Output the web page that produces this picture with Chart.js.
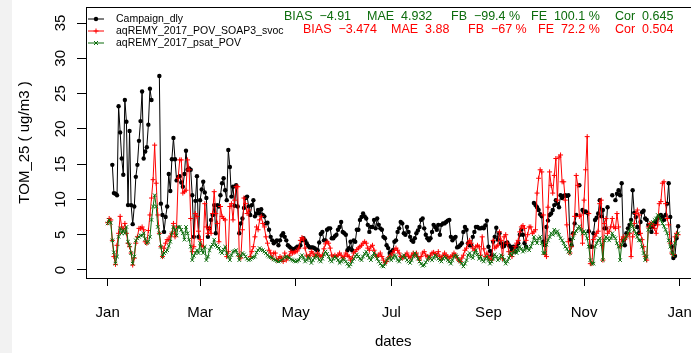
<!DOCTYPE html>
<html>
<head>
<meta charset="utf-8">
<script src="https://cdn.jsdelivr.net/npm/chart.js@4.4.1/dist/chart.umd.min.js"></script>
<style>
  html, body { margin: 0; padding: 0; overflow: hidden; }
  body { width: 691px; height: 353px; background: linear-gradient(to right, #f2f2f2 0, #f2f2f2 12px, #ffffff 12px); }
  #wrap { position: absolute; left: 0; top: 0; width: 710px; height: 353px; }
</style>
</head>
<body>
<div id="wrap"><canvas id="grafikTom" width="710" height="353"></canvas></div>
<script>
// daily values, index 0 = 1 Jan ... 364 = 31 Dec
const campaign = [
  null,null,null,14.9,10.9,10.8,10.6,23.2,19.5,15.8,
  13.5,24.1,21.0,9.2,19.7,9.2,6.5,9.0,13.2,14.9,
  18.3,21.1,25.3,15.8,16.8,17.4,20.6,25.7,24.1,null,
  null,null,null,27.5,9.4,7.8,5.4,7.5,9.0,13.6,
  11.2,15.7,18.7,15.7,12.7,13.2,13.3,12.4,11.8,13.6,
  16.9,14.2,14.4,14.2,10.6,4.7,9.8,13.3,4.7,9.9,
  11.4,12.5,11.0,10.2,4.7,5.9,7.1,7.8,9.2,5.2,
  9.2,9.0,10.6,12.3,13.0,11.3,9.9,17.0,14.6,10.4,
  11.8,9.1,12.0,9.0,5.2,6.6,7.3,8.8,10.2,10.4,
  9.0,7.8,9.2,9.9,7.6,8.0,8.5,8.0,8.6,7.8,
  7.6,6.6,6.7,5.7,4.7,4.2,3.8,4.0,4.2,3.5,
  4.2,4.9,5.2,4.7,4.2,3.5,3.3,3.1,2.8,3.0,
  3.1,3.3,3.2,3.5,4.2,4.5,4.2,3.8,3.4,3.2,
  3.2,3.2,3.1,2.9,2.8,3.9,5.1,5.4,4.2,4.2,
  5.7,5.9,5.9,4.5,4.5,4.8,5.0,5.7,6.1,6.8,
  5.4,5.2,5.0,2.8,3.1,4.0,2.8,4.2,4.0,5.7,
  5.7,7.1,7.5,8.0,7.6,7.3,6.4,5.4,6.1,6.1,
  7.1,5.9,7.3,6.4,5.9,5.7,4.7,4.5,3.5,3.1,
  2.4,2.6,2.8,4.0,4.2,5.4,5.9,6.8,6.6,5.2,
  5.0,6.1,5.4,4.7,4.2,4.0,4.5,5.2,5.6,6.1,
  7.1,7.3,5.9,5.0,4.5,4.2,4.5,5.4,6.4,6.1,
  5.7,6.4,5.0,6.4,6.6,6.6,6.8,7.0,7.1,4.7,
  4.2,4.5,4.7,3.2,3.3,3.5,3.8,5.4,6.1,5.7,
  3.8,3.5,3.5,4.7,5.4,6.1,6.1,5.9,5.9,6.0,
  5.9,6.3,7.0,3.3,2.7,2.1,4.0,4.7,6.0,4.3,
  5.2,3.8,3.3,3.4,3.8,3.9,3.5,3.3,2.8,3.3,
  2.6,3.3,3.8,5.0,5.7,5.0,3.8,3.3,null,null,
  null,null,9.5,9.2,8.9,8.5,7.9,7.6,4.0,3.5,
  6.1,7.0,7.8,8.0,8.5,9.2,9.9,9.4,8.9,10.6,
  10.2,10.5,10.6,10.5,10.6,4.3,3.5,5.2,6.6,7.8,
  null,12.0,null,8.5,8.2,8.3,8.1,5.5,3.3,3.3,
  5.2,7.1,7.4,8.0,9.9,7.6,8.5,5.9,5.9,8.9,
  null,null,10.6,null,9.9,10.8,11.3,10.6,12.3,4.2,
  3.5,5.2,5.9,6.4,7.1,11.3,8.1,7.5,6.1,5.2,
  6.8,8.2,8.4,7.3,7.1,6.4,6.1,5.4,6.1,6.5,
  6.8,7.3,7.5,7.8,7.5,7.1,7.8,9.4,12.3,7.5,
  3.3,1.7,2.0,4.5,6.2
];

const soap3 = [
  6.7,7.3,7.1,4.2,1.9,0.8,3.5,5.2,7.6,6.1,
  5.7,6.6,5.2,3.8,3.3,2.4,0.7,1.7,3.8,4.7,
  5.9,5.9,6.1,5.7,4.0,3.8,5.6,7.8,10.2,12.8,
  17.7,12.3,7.8,5.2,3.3,1.9,3.1,3.8,4.3,4.3,
  4.8,5.2,6.6,4.7,6.1,13.0,15.6,15.6,10.9,11.1,
  11.3,15.6,14.2,7.3,2.6,3.3,8.0,7.6,5.5,4.3,
  3.5,3.3,9.4,6.1,5.2,5.9,5.2,8.0,11.1,8.0,
  6.6,4.0,9.0,7.6,7.3,7.1,1.9,2.6,9.0,9.4,
  7.1,9.9,11.8,11.8,1.9,1.7,5.7,10.2,9.4,8.0,
  8.5,1.9,2.6,3.3,4.7,6.1,5.7,7.1,7.6,6.6,
  6.1,4.7,3.8,2.8,2.4,1.7,2.4,2.4,1.4,1.6,
  1.9,1.7,1.2,2.4,1.4,1.8,2.1,2.6,2.4,2.5,
  2.6,2.7,3.1,4.2,4.6,4.4,3.1,2.1,1.9,2.1,
  2.6,2.4,1.9,2.1,2.4,2.1,1.9,2.1,3.0,3.7,
  4.0,3.8,3.1,2.1,1.9,2.1,1.9,2.1,2.4,2.1,
  1.7,1.9,2.4,2.1,1.9,1.4,1.7,2.4,2.6,2.9,
  3.1,3.3,3.5,3.8,4.0,3.8,3.1,2.8,3.3,3.5,
  2.8,2.1,1.9,2.1,2.4,1.9,1.4,1.0,1.2,1.7,
  1.9,2.1,2.4,2.8,3.1,2.8,2.4,1.9,1.7,1.9,
  2.1,2.4,1.9,1.7,2.1,2.4,2.1,2.4,1.9,1.4,
  1.9,2.4,2.6,2.1,1.9,1.7,2.1,2.4,2.5,2.3,
  2.1,2.6,1.9,1.7,2.1,2.4,2.1,1.9,1.7,1.9,
  2.1,2.4,2.1,1.7,1.4,1.2,1.7,2.1,2.8,3.1,
  3.8,4.2,3.8,3.1,2.8,3.3,3.5,3.3,2.1,4.7,
  3.0,1.9,2.4,1.9,1.6,1.4,4.2,3.1,3.3,3.5,
  5.4,4.2,1.6,4.7,5.0,3.8,2.6,2.2,1.9,2.6,
  3.3,3.8,4.2,5.4,6.1,6.3,5.9,4.2,5.0,6.1,
  6.1,5.2,5.4,5.7,10.9,13.0,14.2,13.9,7.8,2.2,
  1.9,8.9,13.9,12.0,10.9,13.4,15.8,9.9,16.0,16.3,
  12.5,12.5,9.9,6.4,4.0,2.4,3.3,5.0,7.6,13.4,
  12.0,7.6,7.8,3.8,9.9,14.2,18.9,8.0,0.9,0.9,
  4.3,4.8,5.2,5.5,9.4,9.9,1.4,6.6,7.3,5.2,
  5.5,6.1,7.3,6.1,5.9,8.0,6.1,3.3,4.3,4.7,
  4.3,4.7,5.0,5.2,1.9,4.7,6.6,8.0,8.5,7.8,
  5.2,4.3,3.3,1.9,1.4,6.1,6.6,6.5,6.4,5.9,
  5.2,6.4,9.4,9.7,12.3,12.5,9.4,7.3,6.4,3.8,
  2.4,2.2,4.7,5.2,5.0
];

const psat = [
  6.6,7.1,6.7,4.2,2.5,0.9,1.9,4.7,5.9,5.2,
  5.7,5.2,6.1,4.0,3.5,2.4,0.9,1.9,4.2,4.5,
  4.7,4.9,4.9,5.2,4.4,3.8,4.0,4.7,7.1,9.0,
  10.6,9.0,6.1,5.2,3.3,1.9,2.4,2.6,2.8,3.4,
  4.0,5.2,6.1,5.7,4.9,6.1,6.1,5.7,5.2,4.3,
  6.1,5.2,4.3,3.3,1.4,2.0,2.4,2.8,2.4,3.8,
  2.8,2.4,3.3,1.4,1.9,2.8,3.3,3.6,4.3,3.5,
  3.3,3.1,2.6,2.4,2.9,3.3,2.4,1.9,1.4,2.1,
  2.6,2.7,2.8,2.2,1.4,2.0,2.4,2.2,1.9,1.6,
  1.4,1.5,1.7,1.8,1.9,2.5,2.8,3.1,2.9,2.8,
  2.6,2.4,2.1,1.9,1.8,1.7,1.5,1.4,1.3,1.2,
  1.3,1.4,1.6,1.8,1.9,1.8,1.7,1.5,1.4,1.3,
  1.2,1.3,1.4,1.9,2.1,1.7,1.2,1.4,1.9,1.6,
  1.0,1.4,1.7,2.1,1.9,1.4,1.2,1.6,2.2,2.6,
  2.3,1.9,1.4,1.2,1.6,1.9,1.7,1.4,1.0,1.2,
  1.6,1.4,1.2,0.9,0.5,0.8,1.2,1.6,1.9,2.2,
  1.9,1.6,1.4,1.9,2.3,2.6,2.1,1.7,1.4,1.9,
  2.4,2.1,1.6,1.2,0.9,0.6,0.5,0.9,1.4,1.6,
  1.9,1.4,1.7,2.1,1.9,1.4,1.2,1.6,1.9,2.1,
  1.7,1.4,1.2,1.0,1.4,1.9,2.4,2.1,1.6,1.2,
  0.9,0.6,0.7,1.1,1.4,1.9,1.6,1.4,1.7,2.1,
  1.9,1.6,1.4,1.2,1.6,1.9,1.7,1.4,1.2,0.9,
  1.4,1.9,2.1,1.9,1.4,1.2,0.9,0.5,0.9,1.4,
  2.1,2.4,1.9,1.7,2.4,2.8,2.2,1.6,1.9,1.4,
  1.2,1.6,1.9,1.4,0.9,1.2,1.6,2.2,1.9,1.4,
  1.6,2.1,1.9,1.4,0.9,1.2,1.7,2.4,2.1,2.6,
  2.8,2.4,2.8,3.3,3.0,2.6,2.8,3.3,3.0,2.8,
  3.3,3.8,4.7,4.2,3.8,4.5,4.7,3.8,2.4,2.4,
  3.6,4.2,4.7,5.2,5.0,5.7,5.2,5.5,5.0,4.5,
  4.2,3.8,3.3,3.0,2.6,2.4,3.6,4.5,5.2,5.5,
  5.9,6.2,5.7,5.2,5.5,5.2,4.5,3.3,1.4,0.9,
  0.9,3.3,3.8,4.2,4.5,3.6,1.4,4.2,4.7,4.5,
  4.2,4.5,5.2,4.7,4.5,3.8,3.3,1.4,3.6,4.2,
  4.5,4.7,5.2,5.5,6.8,6.2,5.7,5.2,4.7,4.2,
  4.2,3.3,2.4,1.4,1.9,5.7,6.2,6.6,6.8,7.1,
  7.3,7.8,7.6,7.1,6.6,6.2,5.7,5.2,4.2,3.3,
  2.4,2.1,3.8,4.9,5.2
];

const seriesNames = ['Campaign_dly', 'aqREMY_2017_POV_SOAP3_svoc', 'aqREMY_2017_psat_POV'];
const tickMonths = ['Jan', 'Mar', 'May', 'Jul', 'Sep', 'Nov', 'Jan'];
const tickDays = [0, 59, 120, 181, 243, 304, 365];
const yTicks = [0, 5, 10, 15, 20, 25, 30, 35];
const statsSoap3 = ['BIAS  \u22124.91', 'MAE  4.932', 'FB  \u221299.4 %', 'FE  100.1 %', 'Cor  0.645'];
const statsPsat = ['BIAS  \u22123.474', 'MAE  3.88', 'FB  \u221267 %', 'FE  72.2 %', 'Cor  0.504'];

const FONT = '"Liberation Sans", Arial, Helvetica, sans-serif';
const HIJAU = '#0c6c0c';

const toPoints = arr => arr.map((v, i) => ({ x: i, y: v }));

// legend, box, axis texts and the scores drawn the R way
const hiasan = {
  id: 'hiasan',
  afterDraw(chart) {
    const { ctx, chartArea: a, scales } = chart;
    ctx.save();
    ctx.strokeStyle = '#000';
    ctx.lineWidth = 1;
    ctx.strokeRect(Math.round(a.left) + 0.5, Math.round(a.top) + 0.5,
      Math.round(a.right - a.left), Math.round(a.bottom - a.top));

    ctx.fillStyle = '#000';
    ctx.font = '15px ' + FONT;
    ctx.textAlign = 'center';
    ctx.textBaseline = 'middle';
    yTicks.forEach(v => {
      const y = scales.y.getPixelForValue(v);
      ctx.save();
      ctx.translate(61, y);
      ctx.rotate(-Math.PI / 2);
      ctx.fillText(String(v), 0, 0);
      ctx.restore();
    });
    ctx.save();
    ctx.translate(25, (a.top + a.bottom) / 2);
    ctx.rotate(-Math.PI / 2);
    ctx.fillText('TOM_25 ( ug/m3 )', 0, 0);
    ctx.restore();
    ctx.fillText('dates', (a.left + a.right) / 2, 342);

    // legend
    const warna = ['#000', '#ff0000', HIJAU];
    ctx.font = '10.5px ' + FONT;
    ctx.textAlign = 'left';
    seriesNames.forEach((nama, i) => {
      const y = 19 + i * 12;
      ctx.strokeStyle = warna[i];
      ctx.fillStyle = warna[i];
      ctx.lineWidth = 1;
      ctx.beginPath();
      ctx.moveTo(88, y); ctx.lineTo(104, y);
      ctx.stroke();
      ctx.beginPath();
      if (i === 0) {
        ctx.arc(96, y, 2.2, 0, Math.PI * 2);
        ctx.fill();
      } else if (i === 1) {
        ctx.moveTo(93.5, y); ctx.lineTo(98.5, y);
        ctx.moveTo(96, y - 2.5); ctx.lineTo(96, y + 2.5);
        ctx.stroke();
      } else {
        ctx.moveTo(94, y - 2); ctx.lineTo(98, y + 2);
        ctx.moveTo(94, y + 2); ctx.lineTo(98, y - 2);
        ctx.stroke();
      }
      ctx.fillStyle = '#000';
      ctx.fillText(nama, 116, y);
    });

    // scores
    ctx.font = '12.5px ' + FONT;
    const x1 = [284, 367, 451, 531, 615];
    const x2 = [303, 391, 468, 538, 615];
    ctx.fillStyle = HIJAU;
    statsSoap3.forEach((t, i) => ctx.fillText(t, x1[i], 17));
    ctx.fillStyle = '#ff0000';
    statsPsat.forEach((t, i) => ctx.fillText(t, x2[i], 30));
    ctx.restore();
  }
};

const ctx = document.getElementById('grafikTom').getContext('2d');
const myChart = new Chart(ctx, {
  type: 'line',
  data: {
    datasets: [
      {
        label: seriesNames[0],
        data: toPoints(campaign),
        borderColor: '#000',
        backgroundColor: '#000',
        borderWidth: 1,
        pointStyle: 'circle',
        pointRadius: 2.2,
        pointBorderWidth: 0,
        spanGaps: false,
        order: 3
      },
      {
        label: seriesNames[1],
        data: toPoints(soap3),
        borderColor: '#ff0000',
        backgroundColor: '#ff0000',
        borderWidth: 1,
        pointStyle: 'cross',
        pointRadius: 2.5,
        pointBorderWidth: 1,
        order: 2
      },
      {
        label: seriesNames[2],
        data: toPoints(psat),
        borderColor: HIJAU,
        backgroundColor: HIJAU,
        borderWidth: 1,
        pointStyle: 'crossRot',
        pointRadius: 2.5,
        pointBorderWidth: 1,
        order: 1
      }
    ]
  },
  options: {
    responsive: false,
    animation: false,
    layout: { padding: { left: 0, top: 7, right: 7, bottom: 0 } },
    plugins: { legend: { display: false }, tooltip: { enabled: false } },
    elements: { line: { tension: 0 } },
    scales: {
      x: {
        type: 'linear',
        min: -13.8,
        max: 378.3,
        afterBuildTicks: s => { s.ticks = tickDays.map(v => ({ value: v })); },
        afterFit: s => { s.height = 75; },
        grid: { drawOnChartArea: false, drawTicks: true, tickLength: 8, color: '#000' },
        border: { display: false },
        ticks: {
          autoSkip: false,
          maxRotation: 0,
          padding: 18,
          color: '#000',
          font: { family: FONT, size: 15 },
          callback: (v, i) => tickMonths[i]
        }
      },
      y: {
        min: -1.134,
        max: 37.27,
        afterBuildTicks: s => { s.ticks = yTicks.map(v => ({ value: v })); },
        afterFit: s => { s.width = 86; },
        grid: { drawOnChartArea: false, drawTicks: true, tickLength: 9, color: '#000' },
        border: { display: false },
        ticks: { display: false }
      }
    }
  },
  plugins: [hiasan]
});
</script>
</body>
</html>
